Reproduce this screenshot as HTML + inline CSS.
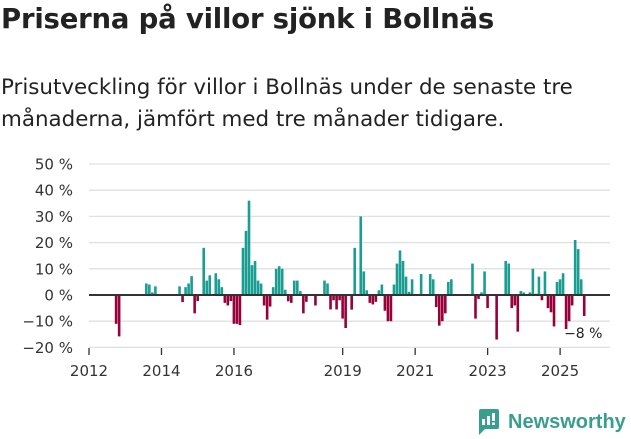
<!DOCTYPE html>
<html><head><meta charset="utf-8"><style>
body{margin:0;background:#fff;width:631px;height:439px;overflow:hidden;font-family:"DejaVu Sans","Liberation Sans",sans-serif;color:#222}
#t{position:absolute;left:1px;top:3px;font-size:27.5px;font-weight:bold;margin:0;letter-spacing:-0.2px}
#s{position:absolute;left:1px;top:72px;font-size:21.4px;line-height:32px;color:#222;margin:0}
svg{position:absolute;left:0;top:0}
</style></head><body>
<h1 id="t">Priserna på villor sjönk i Bollnäs</h1>
<p id="s">Prisutveckling för villor i Bollnäs under de senaste tre<br>månaderna, jämfört med tre månader tidigare.</p>
<svg id="c" width="631" height="439"></svg>
<script>
const yTicks=[50,40,30,20,10,0,-10,-20];
const xTickYears=[2012,2014,2016,2019,2021,2023,2025];
const months=[8,9,18,19,20,21,29,30,31,32,33,34,35,37,38,39,41,42,43,44,45,46,47,48,49,50,51,52,53,54,55,56,57,58,59,60,61,62,63,64,65,66,67,68,69,70,71,74,77,78,79,80,81,82,83,84,86,87,89,90,91,92,93,94,95,96,97,98,99,100,101,102,103,104,105,106,109,112,113,114,115,116,117,118,119,126,127,128,129,130,131,134,137,138,139,140,141,142,143,145,146,147,148,149,150,151,152,153,154,155,156,157,158,159,160,161,162,163];
const values=[-11,-15.8,4.4,4,1,3.3,3.3,-2.7,3,4.4,7.2,-7,-2.3,18,5.5,7.5,8.3,6,3,-3,-4,-2.3,-11,-11,-11.5,18,24.5,36,11.4,13,5.5,4.4,-4,-9.4,-4.4,3,10,11,10,2,-2.4,-3,5.5,5.5,1.5,-7,-2.6,-4,5.5,4.4,-5.5,-2,-5.5,-2,-9,-12.6,-5.6,18,30,9,1.8,-3,-3.6,-2.6,1.8,4,-6,-10,-10,4,12,17,13,7,1.2,6,8,8,6,-4.6,-11.7,-10,-7,5,6,12,-9,-1.5,1,9,-5,-17,13,12,-5,-4,-14,1.5,1,1,10,0.5,7,-2,9,-5,-6.6,-12,5,6,8.3,-13,-10,-4,21,17.5,6,-8];
const NS="http://www.w3.org/2000/svg";
const svg=document.getElementById('c');
const x=m=>89+m*3.02;
const y=v=>295-v*2.62;
function mk(tag,attrs){const e=document.createElementNS(NS,tag);for(const k in attrs)e.setAttribute(k,attrs[k]);svg.appendChild(e);return e;}
yTicks.forEach(t=>{
 const g=mk('line',{x1:89,x2:610,y1:y(t),y2:y(t),stroke:'#e0e0e0','stroke-width':1.3});
 
 
 const l=mk('text',{x:73,y:y(t)+5.5,'text-anchor':'end','font-size':15,fill:'#333'});
 l.textContent=(t<0?'−'+(-t):t)+' %';
 
 
});
xTickYears.forEach(yr=>{
 const m=(yr-2012)*12;
 const tk=mk('line',{x1:x(m),x2:x(m),y1:348,y2:355,stroke:'#333','stroke-width':1.3});
 
 
 const l=mk('text',{x:x(m),y:376,'text-anchor':'middle','font-size':15,fill:'#333'});
 l.textContent=yr;
 
 
});
months.forEach((m,i)=>{
 const v=values[i];
 const b=mk('rect',{x:x(m+0.55),width:2.6,y:Math.min(y(v),y(0)),height:Math.abs(y(v)-y(0)),fill:v>=0?'#1a9e92':'#98003a'});
 
 
});
const z=mk('line',{x1:89,x2:610,y1:y(0),y2:y(0),stroke:'#333','stroke-width':2});


const lastV=values[values.length-1];
const lab=mk('text',{x:x(months[months.length-1])+2,y:y(lastV)+22,'font-size':14,fill:'#222','text-anchor':'middle'});
lab.textContent='−'+Math.abs(lastV)+' %';


</script>
<div style="position:absolute;left:476px;top:408px;display:flex;align-items:center">
<svg width="24" height="28" style="position:static"><path d="M3 1h18a2 2 0 0 1 2 2v16a2 2 0 0 1-2 2H9l-6 6V3a2 2 0 0 1 2-2z" fill="#3a9e8f"/><rect x="6" y="11" width="3" height="6" fill="#fff"/><rect x="11" y="8" width="3" height="9" fill="#fff"/><rect x="16" y="5" width="3" height="8" fill="#fff"/><rect x="16" y="14.5" width="3" height="2.5" fill="#fff"/></svg>
<span style="font-family:'Liberation Sans',sans-serif;font-size:20px;color:#3a9e8f;margin-left:8px;font-weight:bold">Newsworthy</span></div>
</body></html>
